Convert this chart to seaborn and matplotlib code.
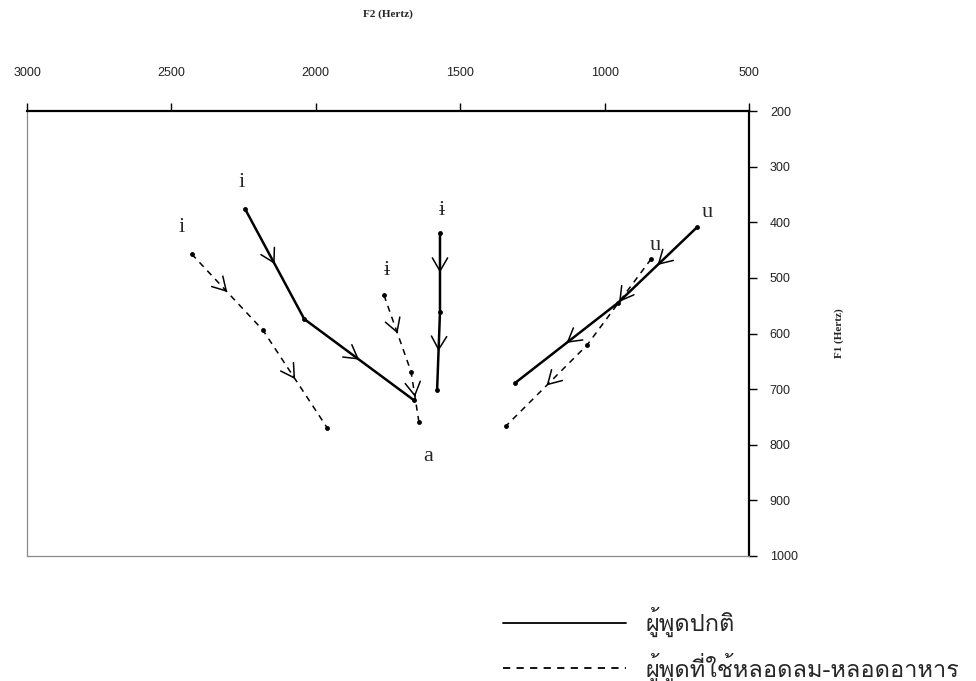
import numpy as np
import pandas as pd
import matplotlib
matplotlib.use("Agg")
import matplotlib.pyplot as plt
import seaborn as sns
from matplotlib import font_manager
from matplotlib.lines import Line2D
from fontTools.ttLib import TTFont

# formant trajectories (F2, F1 in Hz), vowel -> a
normal_i_f2 = [2245, 2040, 1660]
normal_i_f1 = [376, 574, 720]
normal_ii_f2 = [1570, 1570, 1580]
normal_ii_f1 = [420, 561, 702]
normal_u_f2 = [680, 954, 1310]
normal_u_f1 = [409, 545, 689]

tube_i_f2 = [2430, 2183, 1960]
tube_i_f1 = [457, 594, 770]
tube_ii_f2 = [1764, 1670, 1643]
tube_ii_f1 = [531, 669, 759]
tube_u_f2 = [839, 1061, 1341]
tube_u_f1 = [466, 621, 766]

vowel_labels = ["i", "i", "ɨ", "ɨ", "u", "u", "a"]
label_f2 = [2255, 2463, 1563, 1753, 645, 826, 1612]
label_f1 = [328, 410, 378, 486, 383, 441, 822]

f2_ticks = [3000, 2500, 2000, 1500, 1000, 500]
f1_ticks = [200, 300, 400, 500, 600, 700, 800, 900, 1000]

legend_labels = ["ผู้พูดปกติ", "ผู้พูดที่ใช้หลอดลม-หลอดอาหาร"]


def thai_font():
    for f in font_manager.fontManager.ttflist:
        try:
            tt = TTFont(f.fname, fontNumber=0, lazy=True)
            if 0x0E1C in tt.getBestCmap():
                return f.name
        except Exception:
            pass
    return "DejaVu Sans"


sns.set_style("white")
plt.rcParams["font.family"] = ["DejaVu Sans"]
serif = ["Liberation Serif", "DejaVu Serif"]
narrow = ["Liberation Sans Narrow", "Liberation Sans", "DejaVu Sans"]
thai = [thai_font(), "DejaVu Sans"]

rows = []
for spk, tracks in [("normal", [(normal_i_f2, normal_i_f1), (normal_ii_f2, normal_ii_f1), (normal_u_f2, normal_u_f1)]),
                    ("tube", [(tube_i_f2, tube_i_f1), (tube_ii_f2, tube_ii_f1), (tube_u_f2, tube_u_f1)])]:
    for k, (f2, f1) in enumerate(tracks):
        for j in range(len(f2)):
            rows.append({"speaker": spk, "track": f"{spk}{k}", "F2": f2[j], "F1": f1[j], "order": j})
df = pd.DataFrame(rows)

fig = plt.figure(figsize=(9.76, 6.81), dpi=100)
ax = fig.add_axes([27 / 976, 125 / 681, 722 / 976, 445 / 681])

styles = {"normal": dict(lw=1.8, ls="-"), "tube": dict(lw=1.1, ls=(0, (4, 3.5)))}
for tr, g in df.groupby("track"):
    g = g.sort_values("order")
    spk = g["speaker"].iloc[0]
    sns.lineplot(data=g, x="F2", y="F1", sort=False, estimator=None, color="black",
                 marker="o", markersize=3.5, markeredgewidth=0, ax=ax,
                 linewidth=styles[spk]["lw"], linestyle=styles[spk]["ls"])
    xs = g["F2"].to_numpy()
    ys = g["F1"].to_numpy()
    for a in range(len(xs) - 1):
        tx, ty = xs[a] + 0.5 * (xs[a + 1] - xs[a]), ys[a] + 0.5 * (ys[a + 1] - ys[a])
        sx, sy = xs[a] + 0.47 * (xs[a + 1] - xs[a]), ys[a] + 0.47 * (ys[a + 1] - ys[a])
        ax.annotate("", xy=(tx, ty), xytext=(sx, sy),
                    arrowprops=dict(arrowstyle="->,head_length=0.95,head_width=0.55",
                                    color="black", lw=1.1, shrinkA=0, shrinkB=0,
                                    mutation_scale=10))

for lab, x, y in zip(vowel_labels, label_f2, label_f1):
    ax.text(x, y, lab, ha="center", va="center", fontsize=16, family=serif)

ax.set_xlim(3000, 500)
ax.set_ylim(1000, 200)
ax.set_xticks(f2_ticks)
ax.set_yticks(f1_ticks)
ax.xaxis.tick_top()
ax.yaxis.tick_right()
ax.tick_params(axis="x", direction="out", length=6, width=1, pad=17, labelsize=9, colors="black")
ax.tick_params(axis="y", direction="out", length=6, width=1, pad=9, labelsize=9, colors="black")
for t in ax.get_xticklabels() + ax.get_yticklabels():
    t.set_family(narrow)
    t.set_color("#222222")

ax.xaxis.set_label_position("top")
ax.set_xlabel("F2 (Hertz)", fontsize=8, fontweight="bold", family=serif, labelpad=36)
ax.yaxis.set_label_position("right")
ax.set_ylabel("F1 (Hertz)", fontsize=8, fontweight="bold", family=serif, labelpad=26)

for side in ["top", "right"]:
    ax.spines[side].set_color("black")
    ax.spines[side].set_linewidth(1.6)
for side in ["left", "bottom"]:
    ax.spines[side].set_color("#8a8a8a")
    ax.spines[side].set_linewidth(0.9)

handles = [Line2D([], [], color="black", lw=1.3, ls="-"),
           Line2D([], [], color="black", lw=1.3, ls=(0, (4, 3.5)))]
leg = fig.legend(handles, legend_labels, loc="upper left", bbox_to_anchor=(503 / 976, 1 - 607 / 681),
                 frameon=False, handlelength=5.2, handletextpad=0.85, labelspacing=0.65,
                 borderpad=0, borderaxespad=0, prop={"family": thai, "size": 17})

fig.savefig("out.png", dpi=100)
